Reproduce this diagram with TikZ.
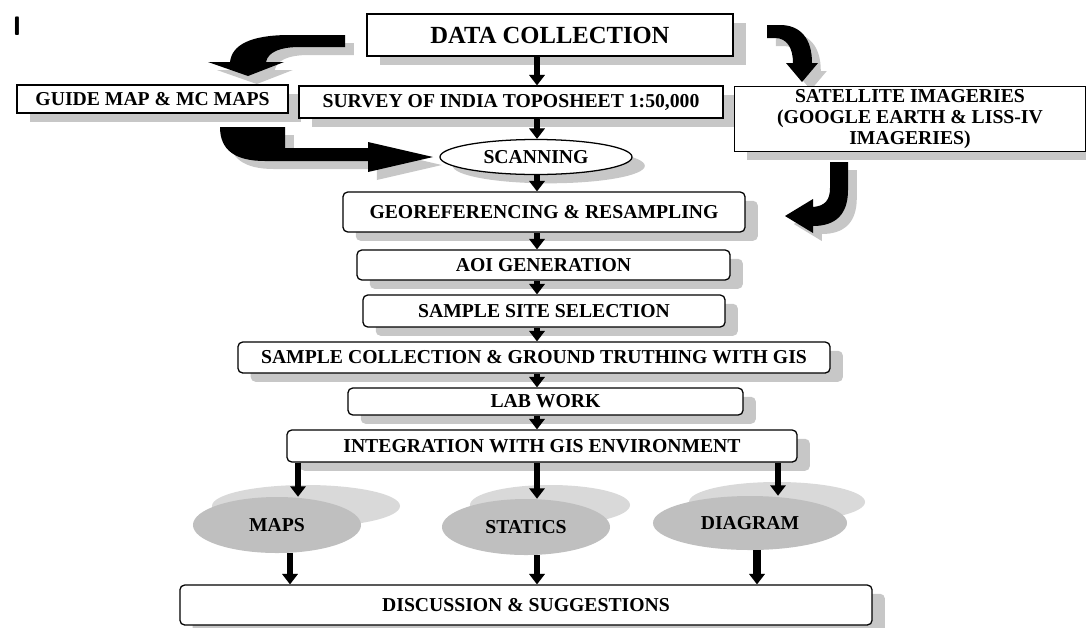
\documentclass[tikz,border=0pt]{standalone}
\usepackage{fontspec}
\setmainfont{Liberation Serif}
\usepackage{tikz}
\usetikzlibrary{arrows.meta,positioning,shapes.geometric,shadows}
\usetikzlibrary{calc}

\begin{document}
\begin{tikzpicture}[
      x=0.025cm,y=-0.025cm,
      mybox/.style={
         rectangle,
         draw=black,
         fill=white,
         line width=0.9pt,
         inner sep=0pt,
         align=center,
         font=\bfseries\fontsize{14}{14}\selectfont,
         drop shadow={shadow xshift=0.32cm,shadow yshift=-0.22cm,fill=black!22,opacity=1}},
      myround/.style={mybox,rounded corners=0.12cm},
      myscan/.style={mybox,ellipse},
      myoval/.style={
         ellipse,
         fill=black!25,
         inner sep=0pt,
         font=\bfseries\fontsize{14}{14}\selectfont},
      myback/.style={ellipse,fill=black!15,inner sep=0pt},
      myarrow/.style={-{Triangle[width=0.38cm,length=0.26cm]},line width=0.15cm},
      myshadow/.style={myarrow,black!20,xshift=0.25cm,yshift=-0.1cm},
      blockshadow/.style={fill=black!22,xshift=0.22cm,yshift=-0.2cm}
      ]
      \useasboundingbox (0,0) rectangle (1086,627);

      % curved block arrows, shadow first
      \foreach \s in {blockshadow,black}{
        \fill[\s] (345,35) -- (290,35) .. controls (250,35) and (232,45) .. (230,62)
           -- (208,62) -- (248,76) -- (284,62) -- (266,62)
           .. controls (268,52) and (280,47) .. (300,47) -- (345,47) -- cycle;
        \fill[\s] (220,127) -- (285,127) -- (285,148) -- (368,148) -- (368,142)
           -- (433,157) -- (368,172) -- (368,161) -- (265,161)
           .. controls (235,161) and (220,150) .. (220,127) -- cycle;
        \fill[\s] (767,25) -- (780,25) .. controls (800,25) and (812,38) .. (812,63)
           -- (818,63) -- (802,82) -- (786,63) -- (793,63)
           .. controls (793,48) and (787,38) .. (775,38) -- (767,38) -- cycle;
        \fill[\s] (830,162) -- (848,162) -- (848,190) .. controls (848,215) and (835,226) .. (813,226)
           -- (813,233) -- (785,216) -- (813,199) -- (813,207)
           .. controls (825,206) and (830,200) .. (830,188) -- cycle;
      }

      \node[font=\sffamily\bfseries\fontsize{19}{19}\selectfont,inner sep=0pt] (tick) at (17,26) {I};

      \node[mybox,minimum width=9.15cm,minimum height=1.05cm,
            font=\bfseries\fontsize{17.5}{17.5}\selectfont] (datacol) at (550,35) {DATA COLLECTION};
      \node[mybox,minimum width=6.775cm,minimum height=0.7cm] (guide) at (152.5,99) {GUIDE MAP \& MC MAPS};
      \node[mybox,minimum width=10.6cm,minimum height=0.8cm] (survey) at (511,102) {SURVEY OF INDIA TOPOSHEET 1:50,000};
      \node[mybox,minimum width=8.775cm,minimum height=1.625cm,
            font=\bfseries\fontsize{14}{15}\selectfont] (sat) at (910,119)
          {SATELLITE IMAGERIES\\(GOOGLE EARTH \& LISS-IV\\IMAGERIES)};
      \node[myscan,minimum width=4.8cm,minimum height=0.875cm] (scan) at (536,157) {SCANNING};
      \node[myround,minimum width=10.05cm,minimum height=1cm] (georef) at (544,212) {GEOREFERENCING \& RESAMPLING};
      \node[myround,minimum width=9.325cm,minimum height=0.75cm] (aoi) at (543.5,265) {AOI GENERATION};
      \node[myround,minimum width=9.05cm,minimum height=0.8cm] (site) at (544,311) {SAMPLE SITE SELECTION};
      \node[myround,minimum width=14.8cm,minimum height=0.775cm] (coll) at (534,357.5)
          {SAMPLE COLLECTION \& GROUND TRUTHING WITH GIS};
      \node[myround,minimum width=9.875cm,minimum height=0.675cm] (lab) at (545.5,401.5) {LAB WORK};
      \node[myround,minimum width=12.75cm,minimum height=0.8cm] (integ) at (542,446) {INTEGRATION WITH GIS ENVIRONMENT};

      \node[myback,minimum width=4.7cm,minimum height=1.05cm] (mapsbk) at (306,506) {};
      \node[myoval,minimum width=4.2cm,minimum height=1.4cm] (maps) at (277,525) {MAPS};
      \node[myback,minimum width=4cm,minimum height=1cm] (statbk) at (550,505) {};
      \node[myoval,minimum width=4.2cm,minimum height=1.4cm] (stat) at (526,527) {STATICS};
      \node[myback,minimum width=4.4cm,minimum height=1cm] (diagbk) at (777,502) {};
      \node[myoval,minimum width=4.85cm,minimum height=1.35cm] (diag) at (750,523) {DIAGRAM};

      \node[myround,minimum width=17.3cm,minimum height=1cm] (disc) at (526,605) {DISCUSSION \& SUGGESTIONS};

      \coordinate (spine) at (537,0);
      \coordinate (colA) at (298,0);
      \coordinate (colB) at (290,0);
      \coordinate (colC) at (778,0);
      \coordinate (colD) at (757,0);

    \foreach \i/\j/\c in {% start node/end node/column
      datacol/survey/spine,
      survey/scan/spine,
      scan/georef/spine,
      georef/aoi/spine,
      aoi/site/spine,
      site/coll/spine,
      coll/lab/spine,
      lab/integ/spine,
      integ/maps/colA,
      integ/stat/spine,
      integ/diag/colC,
      maps/disc/colB,
      stat/disc/spine}
      {
       \draw [myshadow] (\i.south -| \c) -- (\j.north -| \c);
       \draw [myarrow] (\i.south -| \c) -- (\j.north -| \c);
      }

     % this one is drawn thicker
     \draw [myshadow,line width=0.2cm] (diag.south -| colD) -- (disc.north -| colD);
     \draw [myarrow,line width=0.2cm] (diag.south -| colD) -- (disc.north -| colD);
    \end{tikzpicture}
\end{document}
